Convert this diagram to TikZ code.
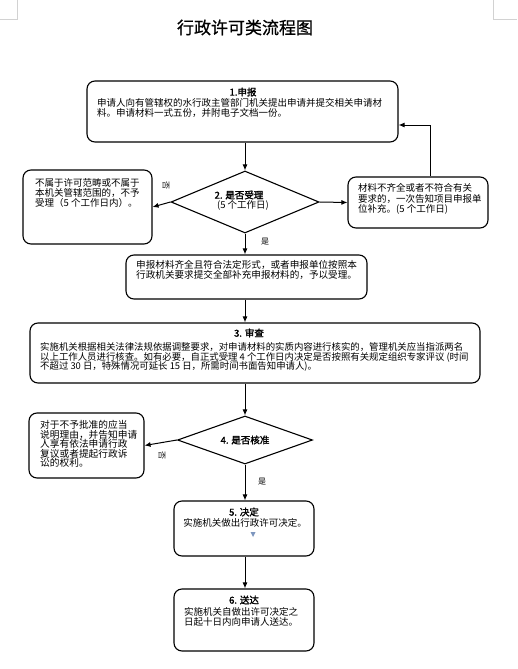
\documentclass[tikz,border=0pt]{standalone}
\usepackage{fontspec}
\setmainfont{Noto Sans CJK SC}[AutoFakeBold=2]
\newfontfamily\titlefont{Noto Sans CJK SC}[FakeBold=0.7]
\usetikzlibrary{shapes.geometric,arrows.meta}
\lineskiplimit=-10pt
\lineskip=0pt
\definecolor{tri}{RGB}{125,150,190}
\begin{document}
\begin{tikzpicture}[x=1pt,y=-1pt,
  box/.style={draw,line width=1.1pt,rounded corners=8pt,inner sep=0pt},
  dia/.style={draw,diamond,line width=1.1pt,inner sep=0pt},
  txt/.style={inner sep=0pt,align=left,anchor=north west,font=\fontsize{9.5}{10}\selectfont},
  ttl/.style={inner sep=0pt,font=\fontsize{9.5}{10}\selectfont\bfseries},
  plain/.style={inner sep=0pt,font=\fontsize{9.5}{10}\selectfont},
  arr/.style={line width=1pt,-{Latex[length=6pt,width=5pt]}},
  lbl/.style={inner sep=0pt,font=\fontsize{8}{8}\selectfont}]
\useasboundingbox (0,0) rectangle (517,669);
% page corner marks
\draw[gray!35,line width=0.6pt] (17,0) -- (17,19) -- (0,19);
\draw[gray!35,line width=0.6pt] (493,0) -- (493,19) -- (517,19);
% title
\node[inner sep=0pt,font=\titlefont\fontsize{17}{17}\selectfont] (title) at (245,27.5) {行政许可类流程图};
% boxes
\node[box,minimum width=311pt,minimum height=61pt] (b1) at (242.5,111.5) {};
\node[dia,minimum width=148pt,minimum height=62pt] (d2) at (245,202) {};
\node[box,minimum width=129pt,minimum height=74pt] (l2) at (87.5,207) {};
\node[box,minimum width=140pt,minimum height=51pt] (r2) at (418,202.5) {};
\node[box,minimum width=241pt,minimum height=44pt] (ac) at (246.5,277) {};
\node[box,minimum width=450pt,minimum height=60pt] (b3) at (255,353) {};
\node[dia,minimum width=135pt,minimum height=48pt] (d4) at (245,440) {};
\node[box,minimum width=115pt,minimum height=65pt] (l4) at (86.5,445.5) {};
\node[box,minimum width=140pt,minimum height=55pt] (b5) at (244,528.5) {};
\node[box,minimum width=140pt,minimum height=62pt] (b6) at (244,620) {};
% texts
\node[ttl] (t1) at (243,92) {1.申报};
\node[txt] (x1) at (97,98.5) {申请人向有管辖权的水行政主管部门机关提出申请并提交相关申请材\\料。申请材料一式五份，并附电子文档一份。};
\node[ttl] (t2) at (239,195) {2. 是否受理};
\node[plain] (t2b) at (243,205) {(5 个工作日)};
\node[txt] (xl2) at (35,178.5) {不属于许可范畴或不属于\\本机关管辖范围的，不予\\受理（5 个工作日内）。};
\node[txt,font=\fontsize{9.5}{10.5}\selectfont] (xr2) at (358,183.5) {材料不齐全或者不符合有关\\要求的，一次告知项目申报单\\位补充。(5 个工作日)};
\node[txt,font=\fontsize{9.6}{10}\selectfont] (xac) at (136,260.5) {申报材料齐全且符合法定形式，或者申报单位按照本\\行政机关要求提交全部补充申报材料的，予以受理。};
\node[ttl] (t3) at (249,333) {3. 审查};
\node[txt,font=\fontsize{9.4}{9.6}\selectfont] (x3) at (40,342.5) {实施机关根据相关法律法规依据调整要求，对申请材料的实质内容进行核实的，管理机关应当指派两名\\以上工作人员进行核查。如有必要，自正式受理 4 个工作日内决定是否按照有关规定组织专家评议 (时间\\不超过 30 日，特殊情况可延长 15 日，所需时间书面告知申请人)。};
\node[ttl] (t4) at (245,440) {4. 是否核准};
\node[txt,font=\fontsize{9.7}{9.5}\selectfont] (xl4) at (40,420.5) {对于不予批准的应当\\说明理由，并告知申请\\人享有依法申请行政\\复议或者提起行政诉\\讼的权利。};
\node[ttl] (t5) at (244,512) {5. 决定};
\node[plain] (x5) at (245,523) {实施机关做出行政许可决定。};
\fill[tri] (250.5,532) -- (255.5,532) -- (253,537) -- cycle;
\node[ttl] (t6) at (244,600) {6. 送达};
\node[txt] (x6) at (184,607.5) {实施机关自做出许可决定之\\日起十日内向申请人送达。};
% labels
\node[lbl,rotate=-90] (no1) at (166,185) {否};
\node[lbl] (yes1) at (265,242) {是};
\node[lbl,rotate=-90] (no2) at (162,455) {否};
\node[lbl] (yes2) at (262,482) {是};
% connectors
\draw[arr] (d2.north |- b1.south) -- (d2.north);
\draw[arr] (d2.west) -- (l2.east);
\draw[arr] (d2.east) -- (r2.west);
\draw[arr] ([xshift=12pt]r2.north) |- ([yshift=-13.5pt]b1.east);
\draw[arr] (d2.south) -- (d2.south |- ac.north);
\draw[arr] (d2.south |- ac.south) -- (d2.south |- b3.north);
\draw[arr] (d4.north |- b3.south) -- (d4.north);
\draw[arr] (d4.west) -- (l4.east);
\draw[arr] (d4.south) -- (d4.south |- b5.north);
\draw[arr] (d4.south |- b5.south) -- (d4.south |- b6.north);
\end{tikzpicture}
\end{document}
